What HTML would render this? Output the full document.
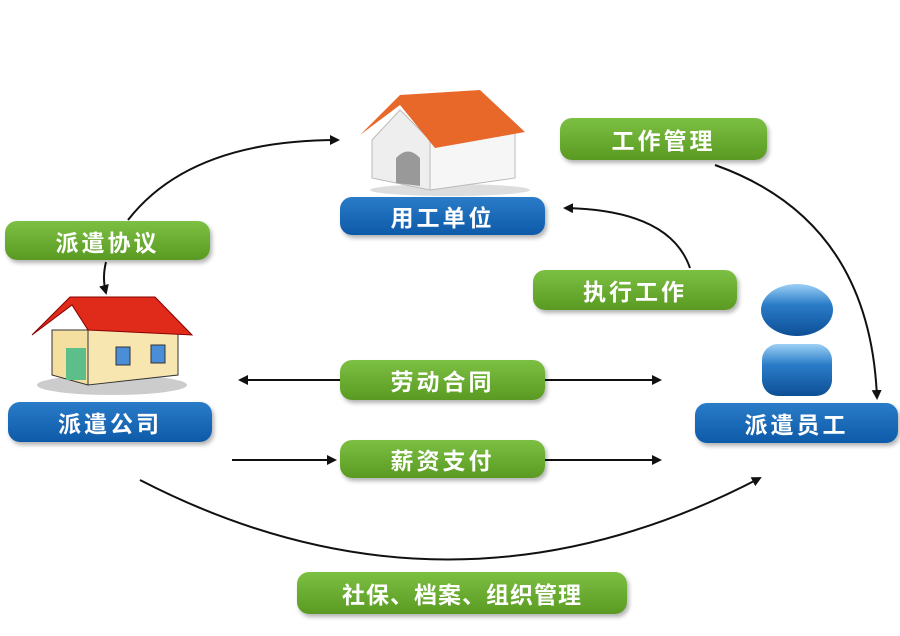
<!DOCTYPE html>
<html><head><meta charset="utf-8"><style>
body{margin:0;width:900px;height:636px;background:#fff;overflow:hidden;position:relative;font-family:"Liberation Sans","Noto Sans CJK SC",sans-serif}
.b{position:absolute;border-radius:12px;color:#fff;font-weight:bold;font-size:23px;display:flex;align-items:center;justify-content:center;letter-spacing:3px;box-shadow:2px 3px 4px rgba(0,0,0,.3)}
.g{background:linear-gradient(#7cc043,#5a9a22)}
.u{background:linear-gradient(#2a7cc8,#0d5aa8)}
svg{position:absolute;left:0;top:0}
</style></head><body>
<svg width="900" height="636">
<defs><marker id="a" markerWidth="10" markerHeight="10" refX="8" refY="5" orient="auto" markerUnits="userSpaceOnUse"><path d="M0,0L10,5L0,10z" fill="#111"/></marker>
<linearGradient id="p" x1="0" y1="0" x2="0" y2="1"><stop offset="0" stop-color="#9cd0f5"/><stop offset=".4" stop-color="#2a7cc8"/><stop offset="1" stop-color="#0d4f96"/></linearGradient></defs>
<g stroke="#111" stroke-width="2" fill="none" marker-end="url(#a)">
<path d="M128,220 Q190,140 338,140"/>
<path d="M106,262 Q102,278 106,293"/>
<path d="M715,165 Q870,220 877,398"/>
<path d="M690,268 Q670,210 565,208"/>
<path d="M340,380 L240,380"/>
<path d="M545,380 L660,380"/>
<path d="M232,460 L335,460"/>
<path d="M545,460 L660,460"/>
<path d="M140,480 Q450,640 760,478"/>
</g>
<!-- top house -->
<ellipse cx="450" cy="190" rx="80" ry="6" fill="#ddd"/>
<polygon points="372,140 372,178 430,190 430,140 400,110" fill="#eee" stroke="#bbb"/>
<polygon points="430,140 430,190 515,178 515,130" fill="#f6f6f6" stroke="#bbb"/>
<polygon points="360,135 400,95 480,90 525,132 435,148 400,105" fill="#e8682a"/>
<path d="M396,183 L396,158 Q408,145 420,158 L420,186z" fill="#999"/>
<!-- left house -->
<ellipse cx="112" cy="385" rx="75" ry="10" fill="#ccc"/>
<polygon points="52,330 52,375 88,385 88,330" fill="#f5dfa0" stroke="#333"/>
<polygon points="88,330 88,385 178,375 178,322" fill="#f8e6b0" stroke="#333"/>
<polygon points="32,335 70,297 155,297 192,335 88,330 72,305" fill="#e02a1a" stroke="#800"/>
<rect x="66" y="348" width="20" height="32" fill="#5cbf8a"/>
<rect x="116" y="347" width="14" height="18" fill="#4a8ed8" stroke="#333"/>
<rect x="151" y="345" width="14" height="18" fill="#4a8ed8" stroke="#333"/>
<!-- person -->
<ellipse cx="797" cy="310" rx="36" ry="26" fill="url(#p)"/>
<rect x="762" y="344" width="70" height="52" rx="16" fill="url(#p)"/>
</svg>
<div class="b u" style="left:340px;top:197px;width:205px;height:38px">用工单位</div>
<div class="b g" style="left:560px;top:118px;width:207px;height:42px">工作管理</div>
<div class="b g" style="left:5px;top:221px;width:205px;height:39px">派遣协议</div>
<div class="b g" style="left:533px;top:270px;width:204px;height:40px">执行工作</div>
<div class="b u" style="left:8px;top:402px;width:204px;height:40px">派遣公司</div>
<div class="b u" style="left:695px;top:403px;width:203px;height:40px">派遣员工</div>
<div class="b g" style="left:340px;top:360px;width:205px;height:40px">劳动合同</div>
<div class="b g" style="left:340px;top:440px;width:205px;height:38px">薪资支付</div>
<div class="b g" style="left:297px;top:572px;width:330px;height:42px;letter-spacing:1px">社保、档案、组织管理</div>
</body></html>
